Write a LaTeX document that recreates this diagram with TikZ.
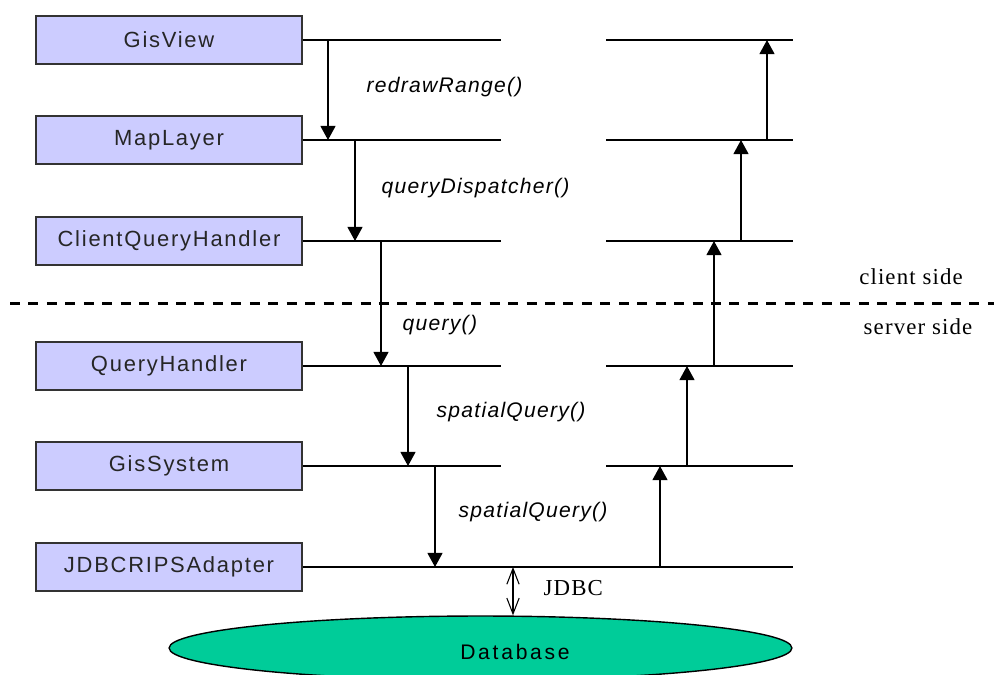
\documentclass[tikz,border=0pt]{standalone}
\usepackage{fontspec}
\usepackage{xcolor}
\usepackage{tikz}
\usetikzlibrary{arrows.meta,shapes.geometric}
\newfontfamily\boxfont[LetterSpace=8]{Liberation Sans}
\newfontfamily\dbfont[LetterSpace=13]{Liberation Sans}
\newfontfamily\msgfont[LetterSpace=6]{Liberation Sans}
\newfontfamily\sidefont[LetterSpace=5]{Liberation Serif}
\definecolor{boxblue}{RGB}{204,204,255}
\definecolor{dbgreen}{RGB}{0,204,153}

\begin{document}
\begin{tikzpicture}[x=0.02cm,y=-0.02cm,line width=0.8pt,
	cls/.style={draw=black!80,fill=boxblue,minimum width=5.32cm,minimum height=0.96cm,inner sep=0pt,text=black!85,font=\boxfont\fontsize{12.5}{14}\selectfont},
	msg/.style={-{Triangle[length=8pt,width=8.5pt]}},
	call/.style={anchor=west,inner sep=0pt,font=\msgfont\itshape\fontsize{12}{14}\selectfont},
	side/.style={inner sep=0pt,font=\sidefont\fontsize{13}{15}\selectfont},
	jdbc/.style={{Straight Barb[length=9pt,width=7pt,line width=0.6pt]}-{Straight Barb[length=9pt,width=7pt,line width=0.6pt]},line width=0.6pt}]
	\clip (0,0) rectangle (994,674);
	
	\node[cls] (gv) at (169,40) {GisView};
	\node[cls] (ml) at (169,140) {MapLayer};
	\node[cls] (cq) at (169,241) {ClientQueryHandler};
	\node[cls] (qh) at (169,366) {QueryHandler};
	\node[cls] (gs) at (169,466) {GisSystem};
	\node[cls] (ad) at (169,567) {JDBCRIPSAdapter};
	
	\coordinate (M) at (501,0);
	\coordinate (R0) at (606,0);
	\coordinate (R1) at (793,0);
	\coordinate (D1) at (328,0);
	\coordinate (D2) at (355,0);
	\coordinate (D3) at (381,0);
	\coordinate (D4) at (408,0);
	\coordinate (D5) at (435,0);
	\coordinate (U1) at (767,0);
	\coordinate (U2) at (741,0);
	\coordinate (U3) at (714,0);
	\coordinate (U4) at (687,0);
	\coordinate (U5) at (660,0);
	\coordinate (J) at (513,0);
	\coordinate (S0) at (10,303);
	\coordinate (S1) at (994,303);
	
	% life lines
	\draw (gv.east)--(gv.east-|M) (R0|-gv)--(R1|-gv)
	(ml.east)--(ml.east-|M) (R0|-ml)--(R1|-ml)
	(cq.east)--(cq.east-|M) (R0|-cq)--(R1|-cq)
	(qh.east)--(qh.east-|M) (R0|-qh)--(R1|-qh)
	(gs.east)--(gs.east-|M) (R0|-gs)--(R1|-gs)
	(ad.east)--(R1|-ad);
	
	\draw[msg] (D1|-gv)--(D1|-ml);
	\draw[msg] (D2|-ml)--(D2|-cq);
	\draw[msg] (D3|-cq)--(D3|-qh);
	\draw[msg] (D4|-qh)--(D4|-gs);
	\draw[msg] (D5|-gs)--(D5|-ad);
	\draw[msg] (U5|-ad)--(U5|-gs);
	\draw[msg] (U4|-gs)--(U4|-qh);
	\draw[msg] (U3|-qh)--(U3|-cq);
	\draw[msg] (U2|-cq)--(U2|-ml);
	\draw[msg] (U1|-ml)--(U1|-gv);
	
	\node[call] (c1) at (366,87) {redrawRange()};
	\node[call] (c2) at (381,188) {queryDispatcher()};
	\node[call] (c3) at (402,325) {query()};
	\node[call] (c4) at (436,412) {spatialQuery()};
	\node[call] (c5) at (458,512) {spatialQuery()};
	
	\draw[line width=1.7pt,dash pattern=on 5.7pt off 4.8pt] (S0)--(S1);
	\node[side] (cs) at (911,277) {client side};
	\node[side] (ss) at (918,327) {server side};
	
	\node[ellipse,draw,fill=dbgreen,minimum width=12.46cm,minimum height=1.28cm,inner sep=0pt] (db) at (480.5,648) {};
	\node[inner sep=0pt,font=\dbfont\fontsize{12}{14}\selectfont] (dbname) at (515,652) {Database};
	\draw[jdbc] (J|-ad)--(J|-db.north);
	\node[side,anchor=west] (jd) at (543,588) {JDBC};
\end{tikzpicture}
\end{document}
